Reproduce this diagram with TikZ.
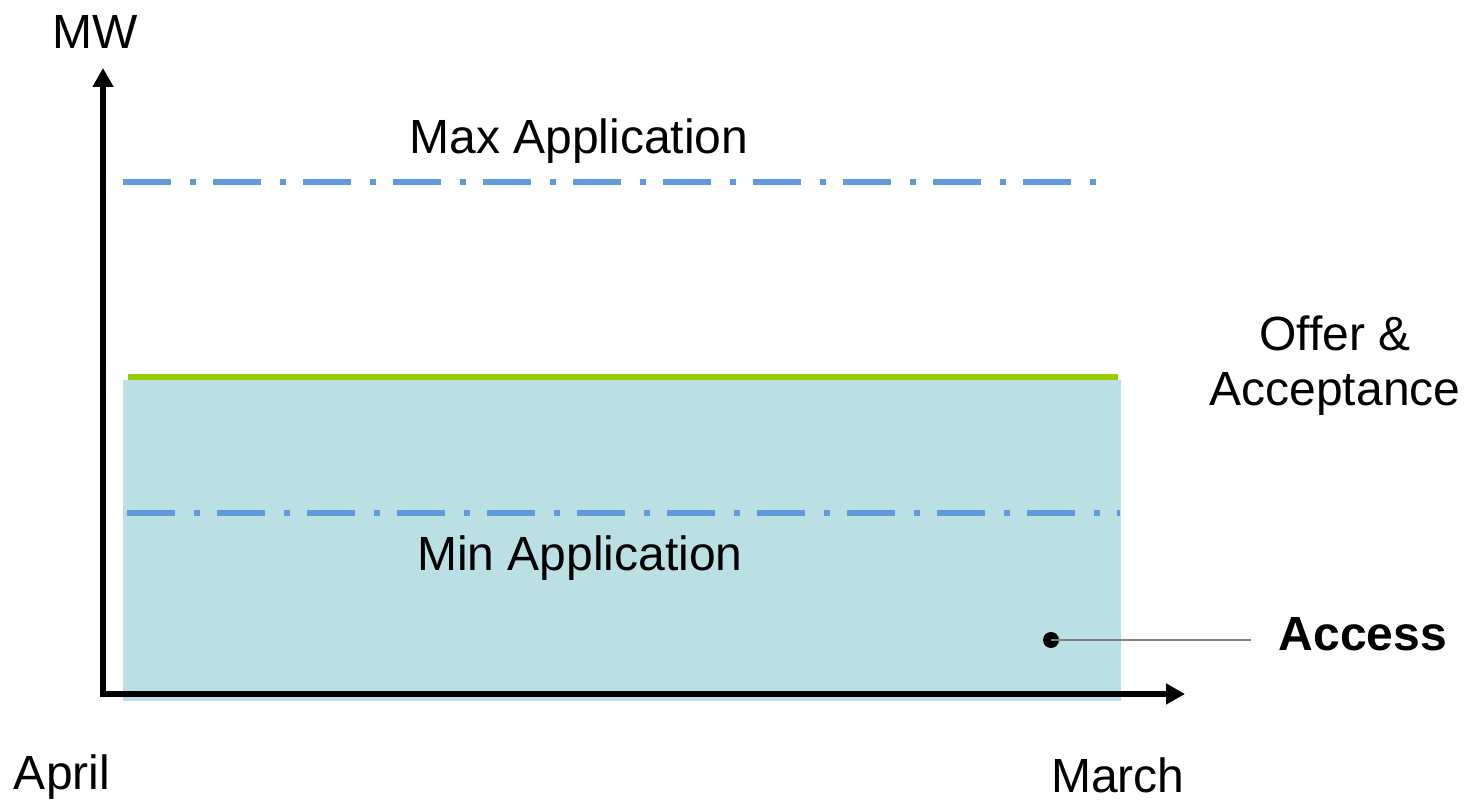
\documentclass[tikz,border=0pt]{standalone}
\usepackage{fontspec}
\setmainfont{Liberation Sans}
\usetikzlibrary{arrows.meta}
\definecolor{accfill}{HTML}{BBE0E3}
\definecolor{offgreen}{HTML}{99CC00}
\definecolor{applblue}{HTML}{5F9BDB}
\tikzset{
  axis/.style={line width=2.6pt,-{Triangle[length=9.5pt,width=10pt]}},
  appline/.style={applblue,line width=3pt,dash pattern=on 24pt off 9.5pt on 3pt off 8.5pt},
  lbl/.style={font=\fontsize{24}{28}\selectfont,inner sep=0pt},
  leader/.style={gray,line width=0.6pt}
}
\begin{document}
\begin{tikzpicture}[x=0.5pt,y=-0.5pt]
\useasboundingbox (0,0) rectangle (1469,802);
% access area
\fill[accfill] (123,380) rectangle (1121,701);
% offer & acceptance line
\coordinate (g1) at (128,377);
\coordinate (g2) at (1118,377);
\draw[offgreen,line width=3pt] (g1) -- (g2);
% application lines
\coordinate (mx1) at (123,182);
\coordinate (mx2) at (1100,182);
\draw[appline] (mx1) -- (mx2);
\coordinate (mn1) at (127,513);
\coordinate (mn2) at (1120,513);
\draw[appline] (mn1) -- (mn2);
% axes
\coordinate (o) at (103,694);
\coordinate (ytip) at (103,68);
\coordinate (xtip) at (1185,694);
\draw[axis] ([yshift=-1.25pt]o) -- (ytip);
\draw[axis] ([xshift=-1.25pt]o) -- (xtip);
% labels
\node[lbl] (mw) at (95,32) {MW};
\node[lbl] (maxa) at (579,141) {Max Application};
\node[lbl,align=center] (offer) at (1335,366) {Offer \&\\[-0.5pt]Acceptance};
\node[lbl] (mina) at (580,558) {Min Application};
\node[lbl,font=\fontsize{24}{28}\selectfont\bfseries] (acc) at (1363,634) {Access};
\node[lbl] (apr) at (62,777) {April};
\node[lbl] (mar) at (1118,775) {March};
% access marker
\node[circle,fill=black,inner sep=0pt,minimum size=8pt] (dot) at (1051,640) {};
\coordinate (lend) at (1251,640);
\draw[leader] (dot.center) -- (lend);
\end{tikzpicture}
\end{document}
